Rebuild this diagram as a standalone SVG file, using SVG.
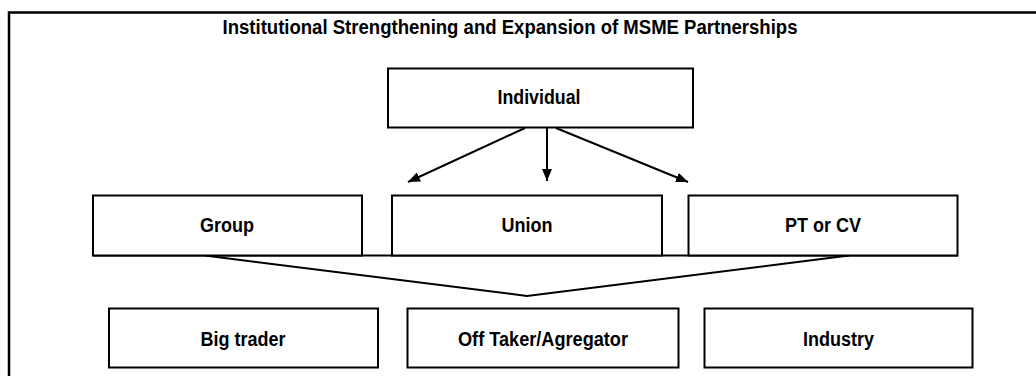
<svg xmlns="http://www.w3.org/2000/svg" width="1036" height="376" viewBox="0 0 1036 376">
<style>
.box{fill:#fff;stroke:#000;stroke-width:2}
.lbl{font-family:"Liberation Sans",Arial,sans-serif;font-weight:bold;font-size:20px;fill:#000;text-anchor:middle}
.ln{stroke:#000;stroke-width:2;fill:none}
</style>
<defs>
<marker id="ah" viewBox="0 0 12 10" refX="12" refY="5" markerWidth="12" markerHeight="10" markerUnits="userSpaceOnUse" orient="auto">
<path d="M0,0 L12,5 L0,10 Z" fill="#000"/>
</marker>
</defs>
<rect width="1036" height="376" fill="#fff"/>
<path d="M9,376 V12.5 H1036" fill="none" stroke="#000" stroke-width="2.5"/>
<text x="510" y="33.5" class="lbl" style="font-size:20px" textLength="575" lengthAdjust="spacingAndGlyphs">Institutional Strengthening and Expansion of MSME Partnerships</text>
<g id="connectors">
<line class="ln" x1="525" y1="128" x2="408" y2="182" marker-end="url(#ah)"/>
<line class="ln" x1="547" y1="128" x2="547" y2="181" marker-end="url(#ah)"/>
<line class="ln" x1="556" y1="128" x2="688" y2="182" marker-end="url(#ah)"/>
<line class="ln" x1="93" y1="255.5" x2="958" y2="255.5"/>
<polyline class="ln" points="205,255.5 527,296 849,255.5"/>
</g>
<g id="individual"><rect class="box" x="388" y="68.5" width="305" height="59"/><text class="lbl" x="539" y="104" textLength="83" lengthAdjust="spacingAndGlyphs">Individual</text></g>
<g id="group"><rect class="box" x="93" y="195.5" width="269" height="60"/><text class="lbl" x="227" y="232" textLength="54" lengthAdjust="spacingAndGlyphs">Group</text></g>
<g id="union"><rect class="box" x="392" y="195.5" width="270" height="60"/><text class="lbl" x="527" y="232" textLength="51" lengthAdjust="spacingAndGlyphs">Union</text></g>
<g id="ptcv"><rect class="box" x="688.5" y="195.5" width="269" height="60"/><text class="lbl" x="823" y="232" textLength="76" lengthAdjust="spacingAndGlyphs">PT or CV</text></g>
<g id="bigtrader"><rect class="box" x="109" y="308.5" width="269" height="59"/><text class="lbl" x="243" y="346" textLength="85" lengthAdjust="spacingAndGlyphs">Big trader</text></g>
<g id="offtaker"><rect class="box" x="407.5" y="308.5" width="271" height="59"/><text class="lbl" x="543" y="346" textLength="170" lengthAdjust="spacingAndGlyphs">Off Taker/Agregator</text></g>
<g id="industry"><rect class="box" x="704.5" y="308.5" width="268" height="59"/><text class="lbl" x="838.5" y="346" textLength="71" lengthAdjust="spacingAndGlyphs">Industry</text></g>
</svg>
